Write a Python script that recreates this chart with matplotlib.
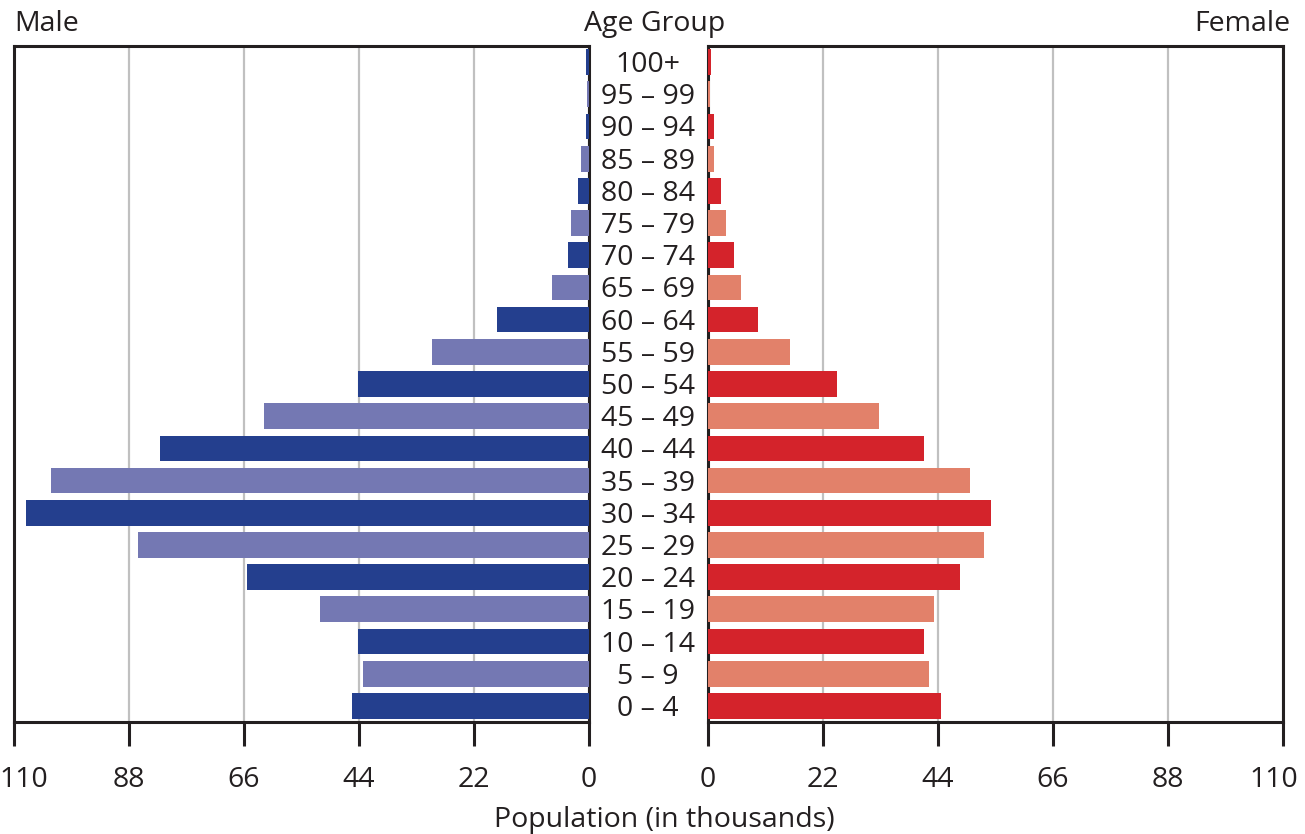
import numpy as np
import matplotlib
matplotlib.use("Agg")
from matplotlib import pyplot as plt
from matplotlib import transforms

# Daten
ages = ["0 – 4", "5 – 9", "10 – 14", "15 – 19", "20 – 24", "25 – 29", "30 – 34",
        "35 – 39", "40 – 44", "45 – 49", "50 – 54", "55 – 59", "60 – 64", "65 – 69",
        "70 – 74", "75 – 79", "80 – 84", "85 – 89", "90 – 94", "95 – 99", "100+"]
male = [45.3, 43.2, 44.2, 51.5, 65.4, 86.3, 107.7, 102.9, 82.1, 62.2, 44.2,
        30.0, 17.6, 7.1, 4.0, 3.4, 2.1, 1.5, 0.5, 0.3, 0.5]
female = [44.6, 42.3, 41.3, 43.2, 48.2, 52.8, 54.1, 50.1, 41.3, 32.7, 24.7,
          15.7, 9.6, 6.3, 5.0, 3.4, 2.5, 1.1, 1.1, 0.4, 0.6]
ticks = [0, 22, 44, 66, 88, 110]

male_cols = ["#243f8e", "#7478b3"]
female_cols = ["#d4232b", "#e2816a"]
ink = "#231f20"
fs = 20.5

plt.rcParams['font.family'] = ['Open Sans', 'DejaVu Sans']
W, H = 1305, 834
fig = plt.figure(figsize=(W / 100, H / 100), dpi=100)

bottom = 1 - 722 / H
height = (722 - 46) / H
ax_l = fig.add_axes([14 / W, bottom, (589 - 14) / W, height])
ax_r = fig.add_axes([708 / W, bottom, (1283 - 708) / W, height])

y = np.arange(len(ages))
ax_l.barh(y, male, height=0.8, color=[male_cols[i % 2] for i in y], zorder=3)
ax_r.barh(y, female, height=0.8, color=[female_cols[i % 2] for i in y], zorder=3)

ax_l.set_xlim(110, 0)
ax_r.set_xlim(0, 110)
for ax in (ax_l, ax_r):
    ax.set_ylim(-0.5, len(ages) - 0.5)
    ax.set_yticks([])
    ax.set_xticks(ticks)
    ax.set_xticklabels([str(t) for t in ticks], fontsize=fs, color=ink)
    ax.tick_params(axis="x", direction="out", length=17, width=2.2,
                   color=ink, pad=15)
    ax.grid(axis="x", color="#c0c0c0", linewidth=1.6, zorder=0)
    for s in ax.spines.values():
        s.set_linewidth(2.2)
        s.set_color(ink)

# "110" an den Rändern etwas nach innen schieben
for ax, dx in ((ax_l, 10), (ax_r, -9)):
    for lab in ax.get_xticklabels():
        if lab.get_text() == "110":
            lab.set_transform(lab.get_transform() +
                              transforms.ScaledTranslation(dx / 100, 0, fig.dpi_scale_trans))

# Altersgruppen in der Mitte
for i, lab in enumerate(ages):
    fig.text(648 / W, (ax_l.transData.transform((0, i))[1] - 3) / H, lab,
             ha="center", va="center", fontsize=fs, color=ink)

# Beschriftungen
top_y = 1 - 24 / H
fig.text(14 / W, top_y, "Male", ha="left", va="center", fontsize=fs, color=ink)
fig.text(1290 / W, top_y, "Female", ha="right", va="center", fontsize=fs, color=ink)
fig.text(655 / W, top_y, "Age Group", ha="center", va="center", fontsize=fs, color=ink)
fig.text(664 / W, 1 - 820 / H, "Population (in thousands)", ha="center", va="center",
         fontsize=fs, color=ink)

fig.savefig("out.png", dpi=100)
